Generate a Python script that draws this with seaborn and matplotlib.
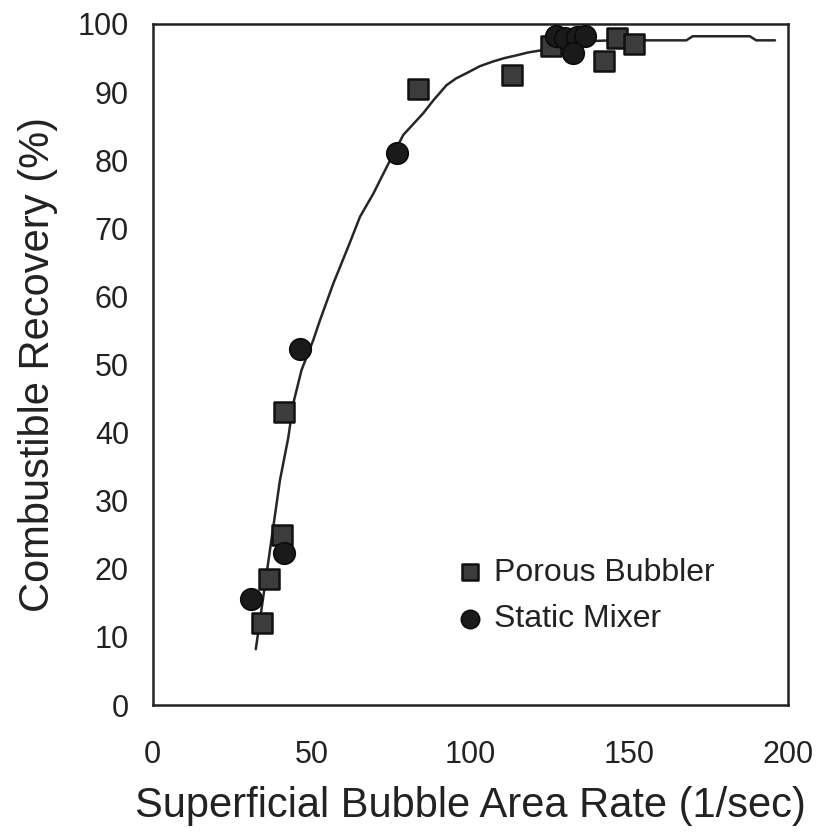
import matplotlib
matplotlib.use("Agg")
import matplotlib.pyplot as plt
import seaborn as sns
import pandas as pd

# Porous bubbler measurements
bubbler_rate = [34.5, 36.8, 40.6, 41.5, 83.4, 113.1, 125.5, 142.2, 146.3, 151.5]
bubbler_recovery = [12.0, 18.5, 25.0, 43.0, 90.5, 92.5, 96.7, 94.5, 97.9, 97.1]

# Static mixer measurements
mixer_rate = [31.0, 41.5, 46.4, 77.0, 126.9, 129.8, 133.5, 136.1, 132.4]
mixer_recovery = [15.5, 22.3, 52.3, 81.0, 98.3, 97.9, 98.1, 98.3, 95.7]

# Fitted recovery curve
fit_rate = [32.5, 36.3, 40.1, 42.7, 44.3, 46.9, 50.6, 52.7, 56.9, 61.6, 65.3,
            69.5, 73.7, 78.9, 85.2, 88.4, 92.5, 95.5, 98.9, 103.0, 107.2,
            110.8, 114.6, 118.0, 121.9, 125.0, 128.2, 131.0, 134.5, 138.0,
            145.0, 160.0, 168.0, 170.0, 188.0, 190.0, 195.9]
fit_recovery = [8.2, 20.6, 33.0, 39.2, 44.3, 49.2, 53.6, 56.5, 61.9, 67.3, 71.7,
                75.1, 79.0, 83.7, 86.9, 88.8, 91.0, 92.0, 92.8, 93.8, 94.5,
                95.0, 95.4, 95.8, 96.1, 96.4, 96.7, 97.1, 97.4, 97.5,
                97.6, 97.6, 97.6, 98.2, 98.2, 97.6, 97.6]

x_ticks = [0, 50, 100, 150, 200]
y_ticks = [0, 10, 20, 30, 40, 50, 60, 70, 80, 90, 100]

sns.set_style("white")
plt.rcParams["font.family"] = ["Liberation Sans", "DejaVu Sans"]

fig = plt.figure(figsize=(8.17, 8.39), dpi=100)
ax = fig.add_axes([0.1867, 0.1597, 0.9645 - 0.1867, 0.9714 - 0.1597])

fit_df = pd.DataFrame({"rate": fit_rate, "recovery": fit_recovery})
sns.lineplot(data=fit_df, x="rate", y="recovery", ax=ax, color="#262626",
             linewidth=1.8, sort=False, zorder=2)

bub_df = pd.DataFrame({"rate": bubbler_rate, "recovery": bubbler_recovery})
mix_df = pd.DataFrame({"rate": mixer_rate, "recovery": mixer_recovery})
sns.scatterplot(data=bub_df, x="rate", y="recovery", ax=ax, marker="s", s=190,
                color="#3c3c3c", edgecolor="#111111", linewidth=1.8,
                label="Porous Bubbler", zorder=3)
sns.scatterplot(data=mix_df, x="rate", y="recovery", ax=ax, marker="o", s=240,
                color="#1a1a1a", edgecolor="#0a0a0a", linewidth=1.2,
                label="Static Mixer", zorder=4)

ax.set_xlim(0, 200)
ax.set_ylim(0, 100)
ax.set_xticks(x_ticks)
ax.set_yticks(y_ticks)
ax.tick_params(axis="both", direction="out", length=9, width=1.6,
               color="#222222", labelsize=22, labelcolor="#222222")
ax.tick_params(axis="x", pad=16)
ax.tick_params(axis="y", pad=8)
for side in ["left", "bottom", "top", "right"]:
    ax.spines[side].set_color("#222222")
    ax.spines[side].set_linewidth(1.8)

ax.set_xlabel("Superficial Bubble Area Rate (1/sec)", fontsize=30,
              color="#222222", labelpad=12)
ax.set_ylabel("Combustible Recovery (%)", fontsize=30, color="#222222",
              labelpad=14)

leg = ax.legend(loc="lower left", bbox_to_anchor=(0.46, 0.085), frameon=False,
                fontsize=23, handlelength=0.8, handletextpad=0.35,
                labelspacing=0.52, markerscale=0.85, borderaxespad=0)
for t in leg.get_texts():
    t.set_color("#222222")

fig.savefig("out.png", dpi=100)
